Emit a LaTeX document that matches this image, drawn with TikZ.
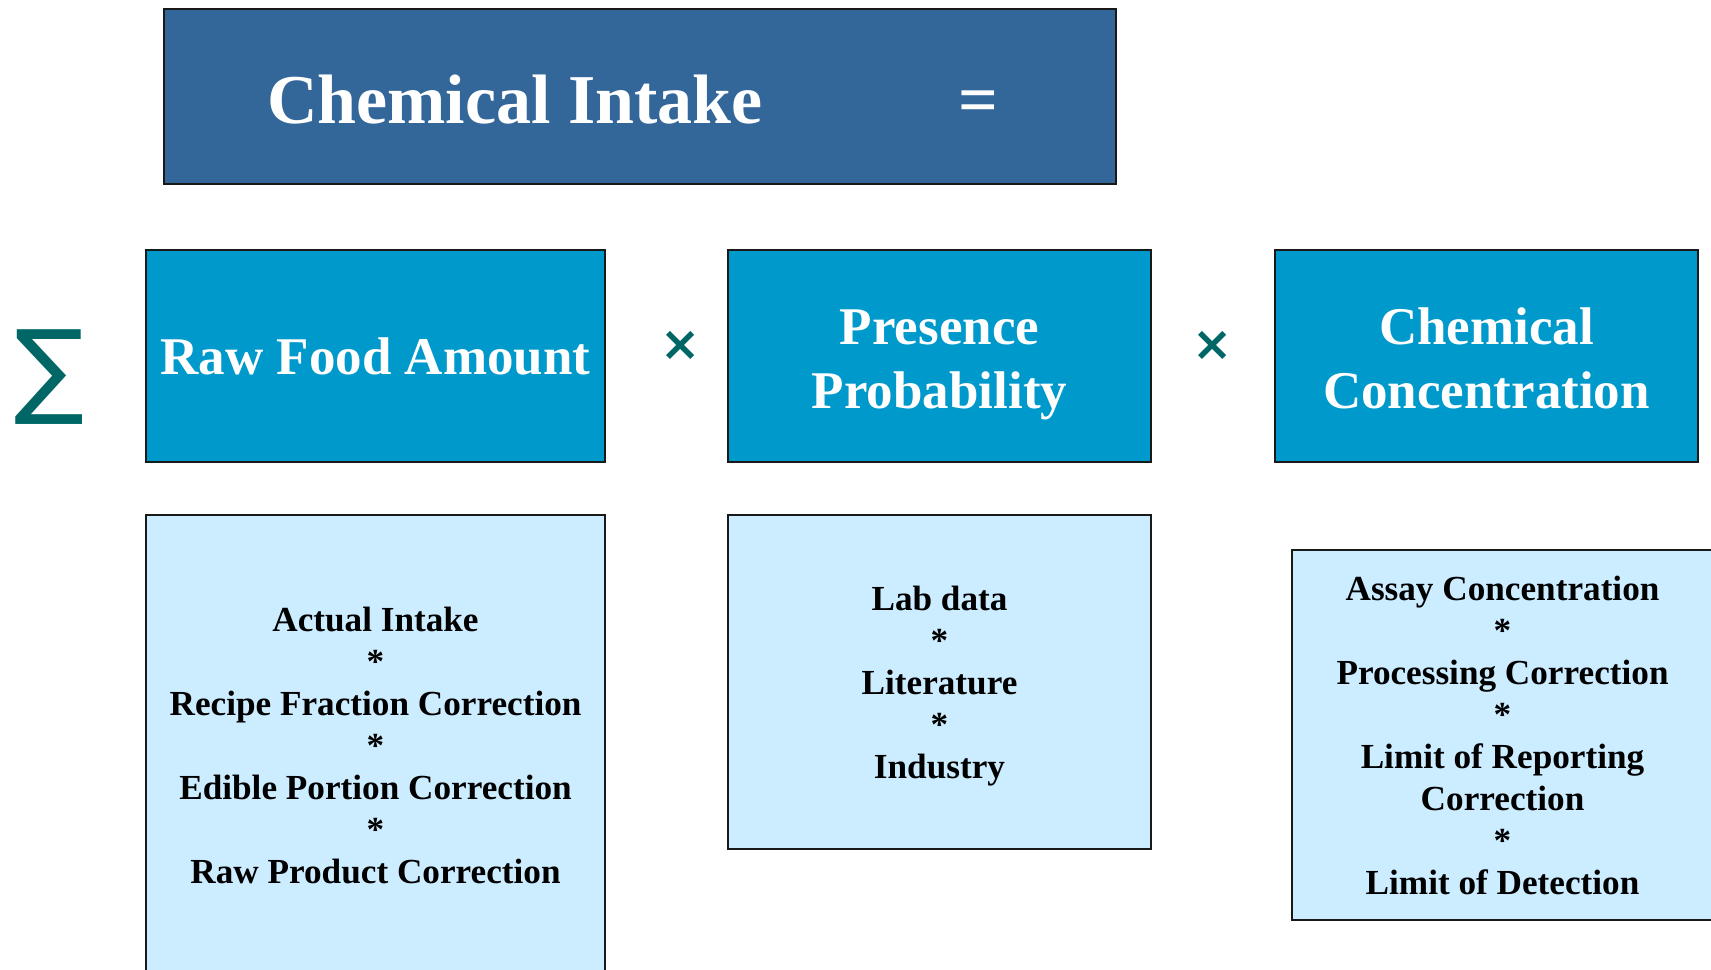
\documentclass[tikz,border=0pt]{standalone}
\usepackage{fontspec}
\setmainfont{Liberation Serif}
\newfontfamily\opfont{DejaVu Sans}
\usepackage{tikz}
\usetikzlibrary{positioning}
\definecolor{intakeblue}{RGB}{51,102,153}
\definecolor{factorblue}{RGB}{0,153,204}
\definecolor{detailblue}{RGB}{204,236,255}
\definecolor{opteal}{RGB}{0,102,102}
\newcommand{\tallstrut}{\rule{0pt}{30pt}}

\begin{document}
\begin{tikzpicture}[
  x=0.5pt, y=-0.5pt,
  box/.style = {draw=black!90, line width=1pt, inner sep=0pt, align=center},
  intakebox/.style = {box, fill=intakeblue, minimum width=476pt, minimum height=87.5pt},
  factorbox/.style = {box, fill=factorblue, text=white, minimum height=106pt,
    font=\bfseries\fontsize{26.5}{31.7}\selectfont},
  detailbox/.style = {box, fill=detailblue, font=\bfseries\fontsize{17.6}{21}\selectfont},
  op/.style = {text=opteal, inner sep=0pt, font=\opfont\bfseries\fontsize{24}{24}\selectfont},
  titletext/.style = {text=white, inner sep=0pt, anchor=base, font=\bfseries\fontsize{35}{42}\selectfont}
  ]
	\useasboundingbox (0,0) rectangle (1711,969);
	\clip (0,0) rectangle (1711,969);

	% top line
	\node[intakebox] (intake) at (640,96.5) {};
	\node[titletext] (intaketext) at (515,123) {Chemical Intake};
	\node[titletext] (equals) at (978,123) {=};

	% factors
	\node[op, font=\opfont\fontsize{52}{52}\selectfont] (sum) at (50,377) {∑};
	\node[factorbox, minimum width=229.5pt] (amount) at (375.5,356) {Raw Food Amount};
	\node[op] (times1) at (681,346) {×};
	\node[factorbox, minimum width=211.5pt] (presence) at (939.5,356) {\tallstrut Presence\\Probability\strut};
	\node[op] (times2) at (1213,346) {×};
	\node[factorbox, minimum width=211.5pt] (concentration) at (1486.5,356) {\tallstrut Chemical\\Concentration\strut};

	% details
	\node[detailbox, minimum width=229.5pt, minimum height=230pt] (amountdetail) at (375.5,745)
		{Actual Intake\\*\\Recipe Fraction Correction\\*\\Edible Portion Correction\\*\\Raw Product Correction};
	\node[detailbox, minimum width=211.5pt, minimum height=167pt] (presencedetail) at (939.5,682)
		{\rule{0pt}{16.5pt}Lab data\\*\\Literature\\*\\Industry};
	\node[detailbox, minimum width=210.5pt, minimum height=185pt] (concentrationdetail) at (1502.5,735)
		{Assay Concentration\\*\\Processing Correction\\*\\Limit of Reporting\\Correction\\*\\Limit of Detection};

\end{tikzpicture}
\end{document}
